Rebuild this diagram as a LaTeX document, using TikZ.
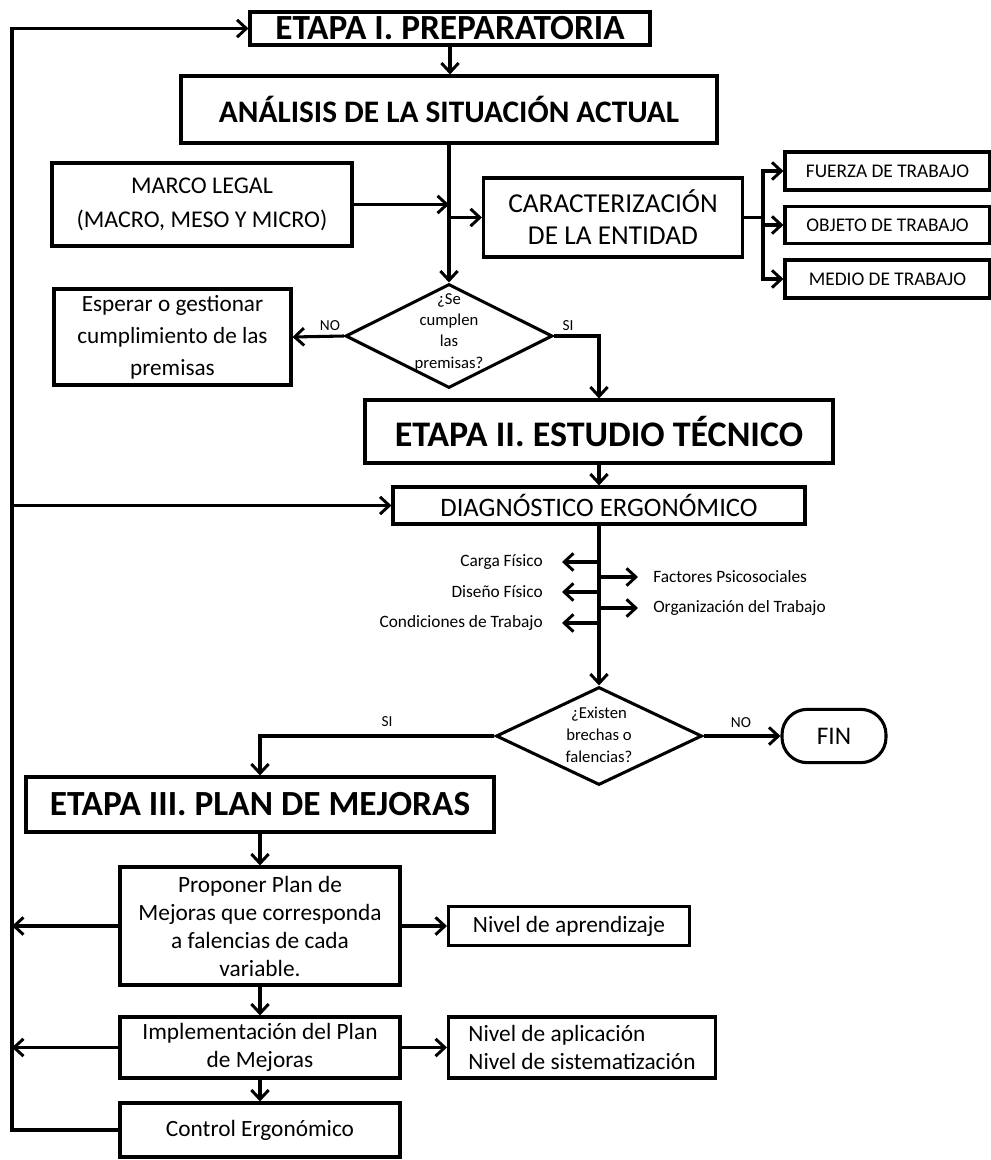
\documentclass[tikz,border=0pt]{standalone}
\usepackage{fontspec}
\setmainfont{Carlito}
\usetikzlibrary{arrows.meta,shapes.geometric}
\tikzset{
  bx/.style 2 args={draw, line width=2.3pt, rectangle, inner sep=0pt,
    minimum width=#1*0.75pt, minimum height=#2*0.75pt, align=center},
  dia/.style 2 args={draw, line width=2.3pt, diamond, inner sep=0pt,
    minimum width=#1*0.75pt, minimum height=#2*0.75pt},
  ln/.style={line width=2.3pt},
  arr/.style={ln, -{Straight Barb[length=7pt,width=13pt,line width=2.2pt]}},
  sm/.style={inner sep=0pt, font=\fontsize{13}{15}\selectfont},
  yn/.style={inner sep=0pt, font=\fontsize{11.5}{13}\selectfont},
  big/.style={font=\bfseries\fontsize{#1}{#1}\selectfont},
  txt/.style={font=\fontsize{#1}{21}\selectfont},
}
\begin{document}
\begin{tikzpicture}[x=0.75pt,y=-0.75pt]
\useasboundingbox (0,0) rectangle (991,1160);

% Stage I
\node[bx={400}{33}, big=26.5] (e1) at (450,28.5) {ETAPA I. PREPARATORIA};
\node[bx={536}{67}, big=23.5] (an) at (449,109.5) {ANÁLISIS DE LA SITUACIÓN ACTUAL};
\node[bx={300}{83}, font=\fontsize{18}{25}\selectfont] (ml) at (202,204.5) {MARCO LEGAL\\(MACRO, MESO Y MICRO)};
\node[bx={259}{79}, font=\fontsize{20.5}{24}\selectfont] (ca) at (613,217.5) {CARACTERIZACIÓN\\DE LA ENTIDAD};
\node[bx={205}{38}, font=\fontsize{14.5}{16}\selectfont] (fu) at (887.5,171) {FUERZA DE TRABAJO};
\node[bx={205}{37}, font=\fontsize{14.5}{16}\selectfont] (ob) at (887.5,225) {OBJETO DE TRABAJO};
\node[bx={205}{38}, font=\fontsize{14.5}{16}\selectfont] (me) at (887.5,279) {MEDIO DE TRABAJO};

\node[dia={207}{104}] (d1) at (449,336) {};
\node[inner sep=0pt, align=center, font=\fontsize{12.5}{16}\selectfont] (d1t) at (449,332) {¿Se\\cumplen\\las\\premisas?};
\node[bx={237}{96}, font=\fontsize{17.4}{24}\selectfont] (es) at (172.5,337) {Esperar o gestionar\\cumplimiento de las\\premisas};
\node[yn] (no1) at (330,326) {NO};
\node[yn] (si1) at (568,326) {SI};

% Stage II
\node[bx={468}{63}, big=27] (e2) at (599,431.5) {ETAPA II. ESTUDIO TÉCNICO};
\node[bx={412}{37}, font=\fontsize{20}{22}\selectfont] (dg) at (599,505.5) {DIAGNÓSTICO ERGONÓMICO};

\node[sm, anchor=east] (cf) at (543,562) {Carga Físico};
\node[sm, anchor=east] (df) at (543,592) {Diseño Físico};
\node[sm, anchor=east] (cd) at (543,623) {Condiciones de Trabajo};
\node[sm, anchor=west] (fp) at (653,577) {Factores Psicosociales};
\node[sm, anchor=west] (ot) at (653,608) {Organización del Trabajo};

\node[dia={206}{98}] (d2) at (599,736) {};
\node[inner sep=0pt, align=center, font=\fontsize{12.5}{16.5}\selectfont] (d2t) at (599,735) {¿Existen\\brechas o\\falencias?};
\node[draw, ln, rounded corners=19pt, inner sep=0pt, minimum width=78pt, minimum height=40pt,
      font=\fontsize{19}{21}\selectfont] (fin) at (834,736) {FIN};
\node[yn] (si2) at (387,722) {SI};
\node[yn] (no2) at (741,723) {NO};

% Stage III
\node[bx={468}{55}, big=26.5] (e3) at (260,804.5) {ETAPA III. PLAN DE MEJORAS};
\node[bx={280}{118}, txt=17.5] (pp) at (260,926) {Proponer Plan de\\Mejoras que corresponda\\a falencias de cada\\variable.};
\node[bx={241}{39}, txt=17.5] (na) at (569,926) {Nivel de aprendizaje};
\node[bx={280}{61}, txt=17.5] (im) at (260,1047.5) {Implementación del Plan\\de Mejoras};
\node[bx={267}{61}, txt=17.5, align=left] (ns) at (582,1047.5) {Nivel de aplicación\\Nivel de sistematización};
\node[bx={280}{54}, txt=17.5] (ct) at (260,1130) {Control Ergonómico};

% connectors, stage I
\draw[arr] (e1.south) -- (e1.south |- an.north);
\draw[arr] (an.south) -- (d1.north);
\draw[arr] (ml.east) -- (ml.east -| an.south);
\draw[arr] (an.south |- ca.west) -- (ca.west);
\coordinate (br) at (763,217.5);
\draw[ln] (ca.east) -- (br);
\draw[arr] (br) |- (fu.west);
\draw[arr] (br) |- (me.west);
\draw[arr] (ob.west -| br) -- (ob.west);
\draw[arr] (d1.west) -- (es.east);
\draw[arr] (d1.east) -| (e2.north);

% connectors, stage II
\draw[arr] (e2.south) -- (dg.north);
\draw[arr] (dg.south) -- (d2.north);
\draw[arr, shorten >=14.25pt] (dg.south |- cf.east) -- (cf.east);
\draw[arr, shorten >=14.25pt] (dg.south |- df.east) -- (df.east);
\draw[arr, shorten >=14.25pt] (dg.south |- cd.east) -- (cd.east);
\draw[arr, shorten >=11.25pt] (dg.south |- fp.west) -- (fp.west);
\draw[arr, shorten >=11.25pt] (dg.south |- ot.west) -- (ot.west);
\draw[arr] (d2.west) -| (e3.north);
\draw[arr] (d2.east) -- (fin.west);

% connectors, stage III
\draw[arr] (e3.south) -- (pp.north);
\draw[arr] (pp.south) -- (im.north);
\draw[arr] (im.south) -- (ct.north);
\draw[arr] (pp.east) -- (na.west);
\draw[arr] (im.east) -- (ns.west);

% feedback loop on the left
\coordinate (lt) at (12,28.5);
\coordinate (lb) at (12,1130);
\draw[arr] (ct.west) -- (lb) -- (lt) -- (e1.west);
\draw[arr] (lt |- dg.west) -- (dg.west);
\draw[arr] (pp.west) -- (pp.west -| lt);
\draw[arr] (im.west) -- (im.west -| lt);
\end{tikzpicture}
\end{document}
